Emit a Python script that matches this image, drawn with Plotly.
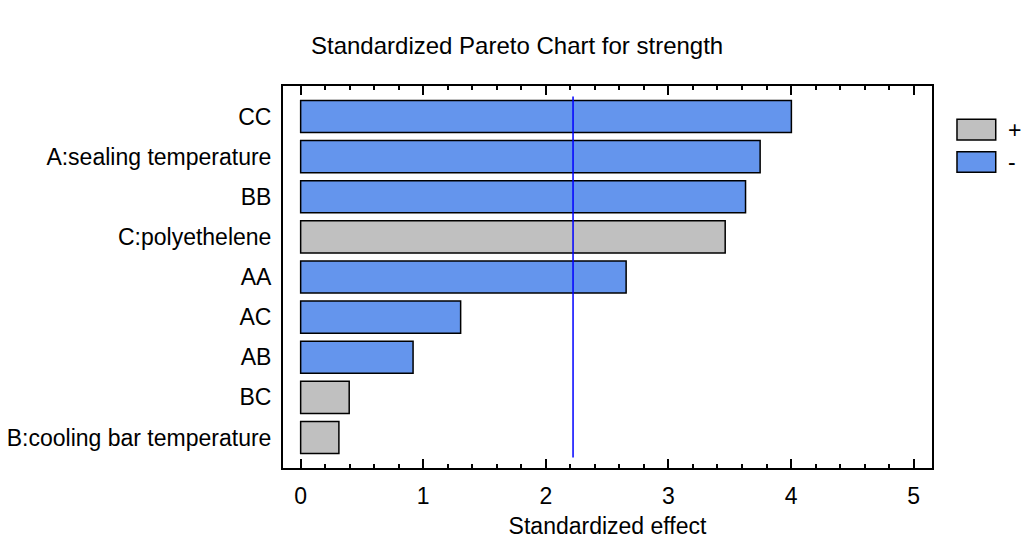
import plotly.graph_objects as go

# Effects, ordered from largest to smallest standardized effect
effects = ["CC", "A:sealing temperature", "BB", "C:polyethelene", "AA",
           "AC", "AB", "BC", "B:cooling bar temperature"]
std_effect = [4.003, 3.748, 3.629, 3.463, 2.655, 1.305, 0.917, 0.396, 0.312]
effect_sign = ["-", "-", "-", "+", "-", "-", "-", "+", "+"]
critical_value = 2.222

COLORS = {"+": "#C0C0C0", "-": "#6495ED"}
FONT = "Liberation Sans, Arial, sans-serif"
FS = 23

fig = go.Figure()
fig.add_trace(go.Bar(
    x=std_effect,
    y=effects,
    orientation="h",
    width=0.8,
    marker=dict(color=[COLORS[s] for s in effect_sign],
                line=dict(color="black", width=1.5)),
    showlegend=False,
    hoverinfo="x+y",
))

# critical value line
fig.add_shape(type="line", xref="x", yref="y",
              x0=critical_value, x1=critical_value, y0=-0.5, y1=len(effects) - 0.5,
              line=dict(color="#0000FF", width=1.5))

# legend boxes for positive / negative effects
legend_items = [("+", 0.9128, 0.8586), ("-", 0.828, 0.774)]
for sign, ytop, ybot in legend_items:
    fig.add_shape(type="rect", xref="paper", yref="paper",
                  x0=1.0385, x1=1.0982, y0=ybot, y1=ytop,
                  fillcolor=COLORS[sign], line=dict(color="black", width=1.5))
    fig.add_annotation(xref="paper", yref="paper", x=1.114, y=(ytop + ybot) / 2,
                       text=sign, showarrow=False, xanchor="left", yanchor="middle",
                       font=dict(family=FONT, size=FS, color="black"))

fig.update_layout(
    width=1026, height=542,
    margin=dict(l=283, r=94, t=86, b=74),
    paper_bgcolor="white", plot_bgcolor="white",
    font=dict(family=FONT, size=FS, color="black"),
    title=dict(text="Standardized Pareto Chart for strength", x=0.504, xanchor="center",
               y=0.915, yanchor="middle", font=dict(family=FONT, size=24, color="black")),
)
fig.update_xaxes(
    range=[-0.144, 5.15],
    tickmode="linear", tick0=0, dtick=1,
    ticks="inside", ticklen=9, tickwidth=1.5, tickcolor="black",
    minor=dict(tickmode="linear", tick0=0, dtick=0.2, ticks="inside", ticklen=4,
               tickwidth=1.5, tickcolor="black", showgrid=False),
    showline=True, linecolor="black", linewidth=2, mirror="allticks",
    showgrid=False, zeroline=False, automargin=False,
    ticklabelstandoff=6,
    tickfont=dict(family=FONT, size=FS),
    title=dict(text="Standardized effect", standoff=10, font=dict(family=FONT, size=FS)),
)
fig.update_yaxes(
    categoryorder="array", categoryarray=effects,
    range=[8.76, -0.76],
    ticks="", showline=True, linecolor="black", linewidth=2, mirror=True,
    showgrid=False, zeroline=False, automargin=False,
    ticklabelstandoff=5,
    tickfont=dict(family=FONT, size=FS),
)

fig.write_html("out.html")
